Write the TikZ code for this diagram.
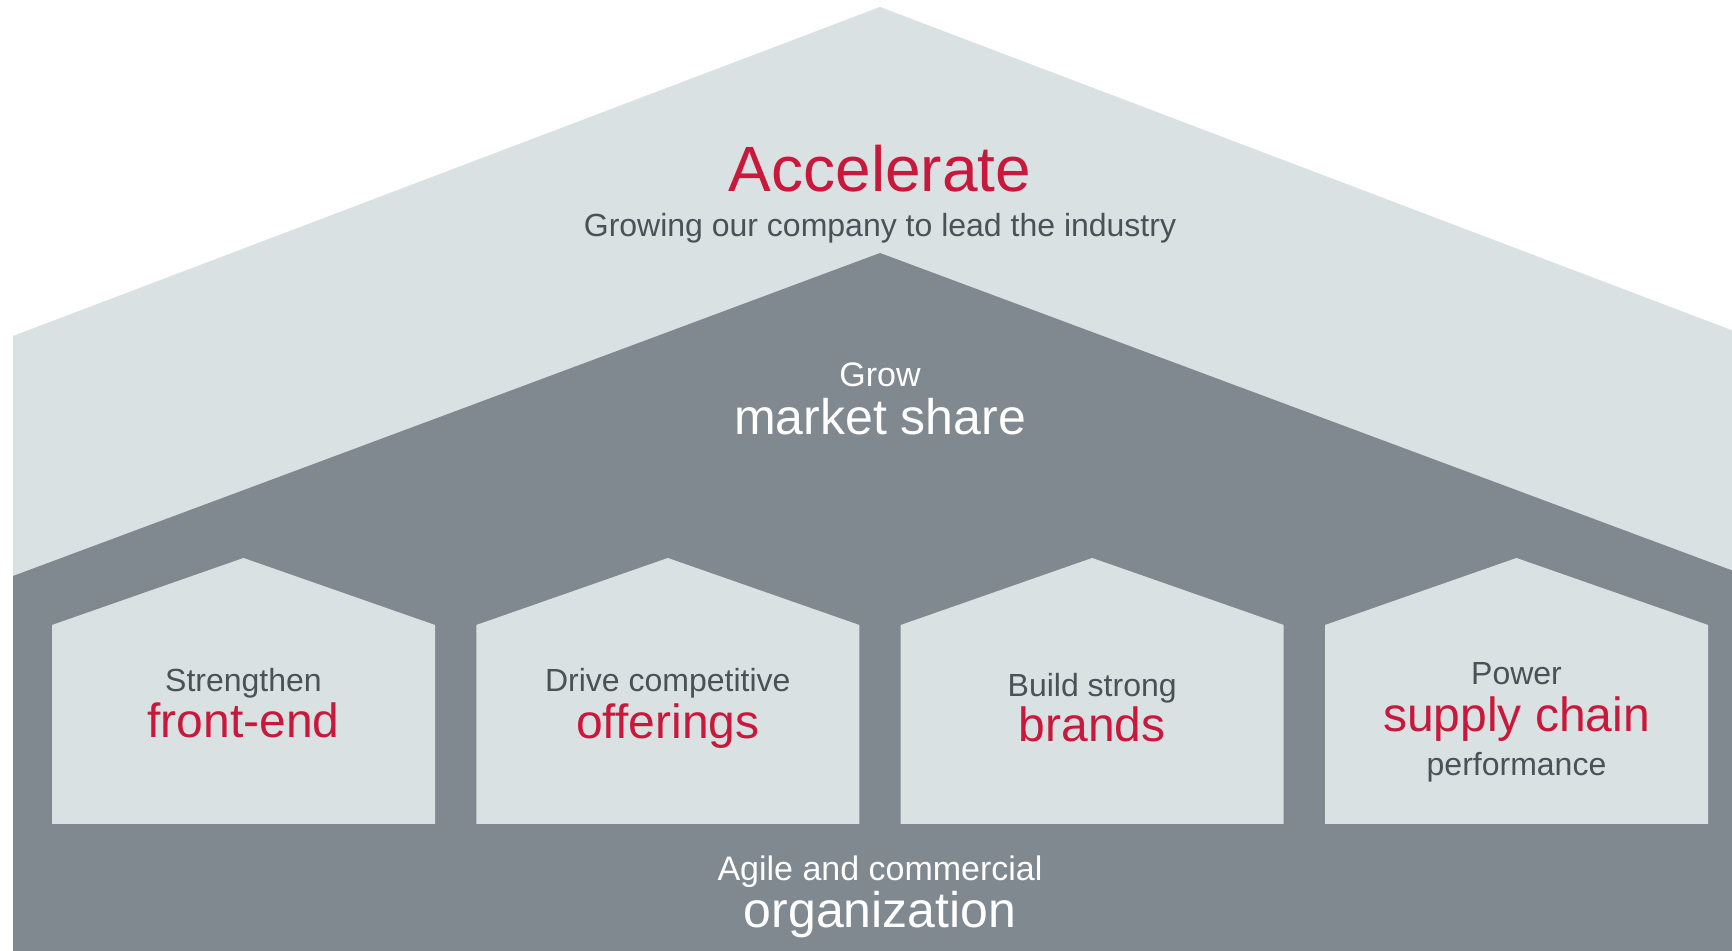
\documentclass[tikz,border=0pt]{standalone}
\usepackage{fontspec}
\setmainfont{Liberation Sans}

\definecolor{houselight}{HTML}{DAE1E3}
\definecolor{housedark}{HTML}{7F898F}
\definecolor{accentred}{HTML}{C8183B}
\definecolor{textgray}{HTML}{4B5157}

\tikzset{
	line/.style={anchor=base, inner sep=0pt},
	smalltext/.style={line, font=\fontsize{16}{19}\selectfont, text=textgray},
	redtext/.style={line, font=\fontsize{24}{29}\selectfont, text=accentred},
	whitesmall/.style={line, font=\fontsize{17}{20}\selectfont, text=white},
	whitebig/.style={line, font=\fontsize{25}{30}\selectfont, text=white},
}

\begin{document}
\begin{tikzpicture}[x=0.5pt,y=0.5pt]
	\useasboundingbox (0,0) rectangle (1732,951);
	\fill[white] (0,0) rectangle (1732,951);

	% roofs
	\begin{scope}
		\clip (0,0) rectangle (1732,951);
		\fill[houselight] (13,0) -- (13,615) -- (880,944) -- (1747,615) -- (1747,0) -- cycle;
		\fill[housedark] (13,0) -- (13,375) -- (880,698) -- (1747,375) -- (1747,0) -- cycle;
	\end{scope}

	% pillars
	\foreach \cx in {243.5, 667.8, 1092.2, 1516.5} {
		\fill[houselight] (\cx-191.5,127) -- (\cx-191.5,326) -- (\cx,393)
			-- (\cx+191.5,326) -- (\cx+191.5,127) -- cycle;
	}

	\node[redtext, font=\fontsize{32}{38}\selectfont] (accel) at (880,759) {Accelerate};
	\node[smalltext] (accelsub) at (880,714) {Growing our company to lead the industry};

	\node[whitesmall] (grow) at (880,564) {Grow};
	\node[whitebig] (growmain) at (880,516) {market share};

	\node[smalltext] (frontsub) at (243.5,259) {Strengthen};
	\node[redtext] (frontmain) at (243.5,213) {front-end};

	\node[smalltext] (offersub) at (667.8,259) {Drive competitive};
	\node[redtext] (offermain) at (667.8,212) {offerings};

	\node[smalltext] (brandsub) at (1092.2,254) {Build strong};
	\node[redtext] (brandmain) at (1092.2,209) {brands};

	\node[smalltext] (supplysub) at (1516.5,266) {Power};
	\node[redtext] (supplymain) at (1516.5,219) {supply chain};
	\node[smalltext] (supplyend) at (1516.5,175) {performance};

	\node[whitesmall] (orgsub) at (880,70) {Agile and commercial};
	\node[whitebig] (orgmain) at (880,23) {organization};
\end{tikzpicture}
\end{document}
